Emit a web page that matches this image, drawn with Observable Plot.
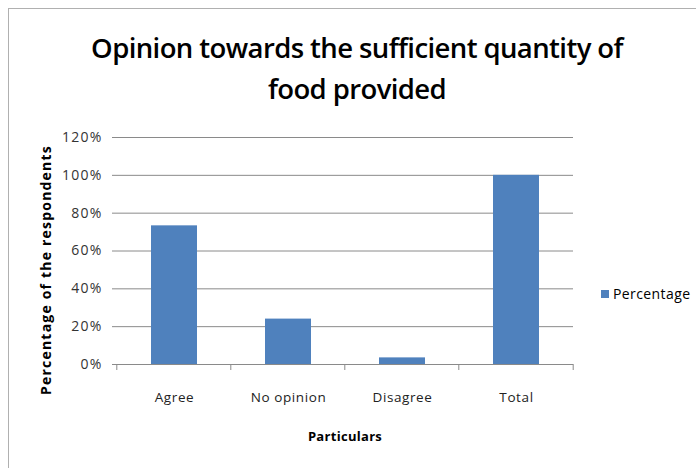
<!DOCTYPE html>
<html>
<head>
<meta charset="utf-8">
<script src="https://cdn.jsdelivr.net/npm/d3@7"></script>
<script src="https://cdn.jsdelivr.net/npm/@observablehq/plot@0.6"></script>
<style>
  body { margin: 0; background: #fff; }
  #wrap { position: relative; width: 696px; height: 468px; overflow: hidden; background: #fff; font-family: "Open Sans", "Noto Sans", sans-serif; }
  #frame { position: absolute; left: 8px; top: 8px; width: 700px; height: 480px; border: 1.5px solid #b0b0b0; box-sizing: border-box; }
  #title { position: absolute; left: 0; width: 714px; top: 27px; text-align: center; font-size: 27.5px; font-weight: 600; line-height: 41px; color: #000; letter-spacing: -0.6px; }
  #ylab { position: absolute; left: 45px; top: 270px; transform: translate(-50%, -50%) rotate(-90deg); white-space: nowrap; font-size: 14px; font-weight: 700; color: #000; letter-spacing: 1.2px; }
  #xlab { position: absolute; left: 345px; top: 436px; transform: translate(-50%, -50%); white-space: nowrap; font-size: 13px; font-weight: 700; color: #000; letter-spacing: 0.3px; }
  #legend { position: absolute; left: 601px; top: 284px; font-size: 14px; color: #000; display: flex; align-items: center; gap: 4px; letter-spacing: 0.4px; }
  #legend .sw { width: 8px; height: 8px; background: #4F81BD; display: inline-block; }
  #chart { position: absolute; left: 0; top: 0; }
  #chart svg g[aria-label="y-axis tick label"] text { font-size: 14px; letter-spacing: 1.2px; }
  #chart svg g[aria-label="x-axis tick label"] text { font-size: 13.5px; letter-spacing: 0.6px; }
</style>
</head>
<body>
<div id="wrap">
  <div id="frame"></div>
  <div id="chart"></div>
  <div id="title">Opinion towards the sufficient quantity of<br>food provided</div>
  <div id="ylab">Percentage of the respondents</div>
  <div id="xlab">Particulars</div>
  <div id="legend"><span class="sw"></span><span>Percentage</span></div>
</div>
<script>
const categories = ["Agree", "No opinion", "Disagree", "Total"];
const percentages = [0.733, 0.24, 0.035, 1.0];
const yTicks = [0, 0.2, 0.4, 0.6, 0.8, 1.0, 1.2];
const seriesName = "Percentage";

const data = categories.map((c, i) => ({category: c, value: percentages[i]}));

const gridColor = "#8a8a8a";

function boundaryTicks(index, scales, values, dimensions) {
  const x = scales.x;
  const step = x.step();
  const pad = step * x.paddingInner() / 2;
  const y0 = dimensions.height - dimensions.marginBottom;
  const g = d3.create("svg:g");
  const xs = categories.map(c => x(c) - pad);
  xs.push(x(categories[categories.length - 1]) + x.bandwidth() + pad);
  for (const px of xs) {
    g.append("line").attr("x1", px).attr("x2", px).attr("y1", y0).attr("y2", y0 + 6)
      .attr("stroke", gridColor).attr("stroke-width", 1);
  }
  return g.node();
}

const chart = Plot.plot({
  width: 696,
  height: 468,
  marginLeft: 117,
  marginRight: 123,
  marginTop: 137,
  marginBottom: 104,
  style: {fontFamily: "'Open Sans', 'Noto Sans', sans-serif", background: "transparent"},
  x: {domain: categories, paddingInner: 0.6, paddingOuter: 0.3, label: null},
  y: {domain: [0, 1.2], ticks: yTicks, label: null},
  marks: [
    Plot.gridY(yTicks, {stroke: gridColor, strokeOpacity: 1, strokeWidth: 1}),
    Plot.barY(data, {x: "category", y: "value", fill: "#4F81BD"}),
    Plot.ruleY([0], {stroke: gridColor, strokeWidth: 1}),
    Plot.ruleX([0], {frameAnchor: "left", stroke: gridColor}),
    Plot.axisY(yTicks, {tickFormat: d3.format(".0%"), tickSize: 5, tickPadding: 10, stroke: gridColor, fill: "#333"}),
    Plot.axisX({tickSize: 0, tickPadding: 28, fill: "#222"}),
    boundaryTicks
  ]
});
document.getElementById("chart").appendChild(chart);
</script>
</body>
</html>
